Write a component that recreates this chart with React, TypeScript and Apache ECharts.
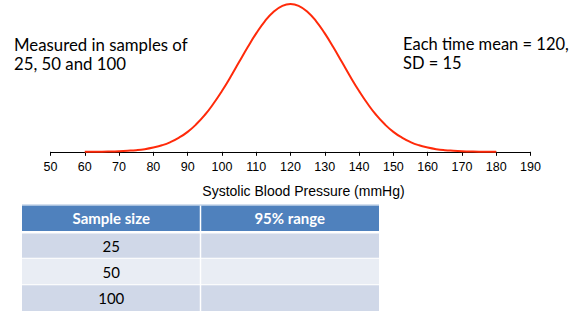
import React, { useEffect, useRef } from "react";
import * as echarts from "echarts";

const bpValues = [
  60, 62.5, 65, 67.5, 70, 72.5, 75, 77.5, 80, 82.5, 85, 87.5, 90, 92.5, 95, 97.5,
  100, 102.5, 105, 107.5, 110, 112.5, 115, 117.5, 120, 122.5, 125, 127.5, 130,
  132.5, 135, 137.5, 140, 142.5, 145, 147.5, 150, 152.5, 155, 157.5, 160, 162.5,
  165, 167.5, 170, 172.5, 175, 177.5, 180,
];
const relHeight = [
  0.0, 0.001, 0.001, 0.002, 0.004, 0.007, 0.011, 0.018, 0.029, 0.044, 0.066, 0.096,
  0.135, 0.186, 0.249, 0.325, 0.411, 0.506, 0.607, 0.707, 0.801, 0.883, 0.946, 0.986,
  1.0, 0.986, 0.946, 0.883, 0.801, 0.707, 0.607, 0.506, 0.411, 0.325, 0.249, 0.186,
  0.135, 0.096, 0.066, 0.044, 0.029, 0.018, 0.011, 0.007, 0.004, 0.002, 0.001, 0.001,
  0.0,
];
const axisMin = 50;
const axisMax = 190;
const axisStep = 10;
const axisTitle = "Systolic Blood Pressure (mmHg)";
const leftNote = "Measured in samples of\n25, 50 and 100";
const rightNote = "Each time mean = 120,\nSD = 15";
const tableHeaders = ["Sample size", "95% range"];
const sampleSizes = ["25", "50", "100"];
const ranges = ["", "", ""];

const ARIAL = "'Liberation Sans', Arial, sans-serif";

export default function App() {
  const ref = useRef<HTMLDivElement>(null);
  useEffect(() => {
    if (!ref.current) return;
    const chart = echarts.init(ref.current, null, { renderer: "svg" });

    const tX = 22, tW = 357, colX = 200.5;
    const headerY = 205.5, headerH = 25.5;
    const rowYs = [233.5, 258.8, 285.3];
    const rowHs = [24.3, 25.5, 25.7];
    const rowColors = ["#D0D8E8", "#E9EDF4", "#D0D8E8"];
    const graphics: any[] = [];
    graphics.push({ type: "rect", shape: { x: tX, y: headerY, width: tW, height: headerH }, style: { fill: "#4F81BD" } });
    graphics.push({ type: "rect", shape: { x: tX, y: headerY - 1, width: tW, height: 1 }, style: { fill: "#A7C0DE" } });
    sampleSizes.forEach((s, i) => {
      graphics.push({ type: "rect", shape: { x: tX, y: rowYs[i], width: tW, height: rowHs[i] }, style: { fill: rowColors[i] } });
      graphics.push({ type: "text", style: { x: (tX + colX) / 2, y: rowYs[i] + rowHs[i] / 2, text: s, align: "center", verticalAlign: "middle", font: "15px Lato", fill: "#000" } });
      graphics.push({ type: "text", style: { x: (colX + tX + tW) / 2, y: rowYs[i] + rowHs[i] / 2, text: ranges[i], align: "center", verticalAlign: "middle", font: "15px Lato", fill: "#000" } });
    });
    graphics.push({ type: "rect", shape: { x: colX - 0.75, y: headerY, width: 1.5, height: 311 - headerY }, style: { fill: "#fff" } });
    tableHeaders.forEach((h, i) => {
      const cx = i === 0 ? (tX + colX) / 2 : (colX + tX + tW) / 2;
      graphics.push({ type: "text", style: { x: cx, y: headerY + headerH / 2, text: h, align: "center", verticalAlign: "middle", font: "bold 15px Lato", fill: "#fff" } });
    });
    graphics.push({ type: "text", style: { x: 14, y: 53.5, text: leftNote, font: "16.8px Lato", lineHeight: 19, fill: "#000", verticalAlign: "middle" } });
    graphics.push({ type: "text", style: { x: 403, y: 53.5, text: rightNote, font: "16.5px Lato", lineHeight: 19, fill: "#000", verticalAlign: "middle" } });

    chart.setOption({
      animation: false,
      grid: { left: 50.5, right: 45.5, top: 4, bottom: 174.3 },
      xAxis: {
        type: "value",
        min: axisMin,
        max: axisMax,
        interval: axisStep,
        name: axisTitle,
        nameLocation: "middle",
        nameGap: 31,
        nameTextStyle: { color: "#000", fontSize: 14, fontFamily: ARIAL, padding: [0, 0, 0, 26] },
        axisLine: { lineStyle: { color: "#000", width: 1 } },
        axisTick: { length: 4, lineStyle: { color: "#000" } },
        axisLabel: { color: "#000", fontSize: 12.5, fontFamily: ARIAL, margin: 8 },
        splitLine: { show: false },
      },
      yAxis: { type: "value", min: -0.006, max: 1, show: false },
      series: [
        {
          type: "line",
          data: bpValues.map((v, i) => [v, relHeight[i]]),
          smooth: true,
          showSymbol: false,
          lineStyle: { color: "#FF2A0A", width: 2 },
          z: 3,
        },
      ],
      graphic: graphics,
    });
    return () => chart.dispose();
  }, []);
  return <div ref={ref} style={{ position: "fixed", left: 0, top: 0, width: 576, height: 327, background: "#fff" }} />;
}
